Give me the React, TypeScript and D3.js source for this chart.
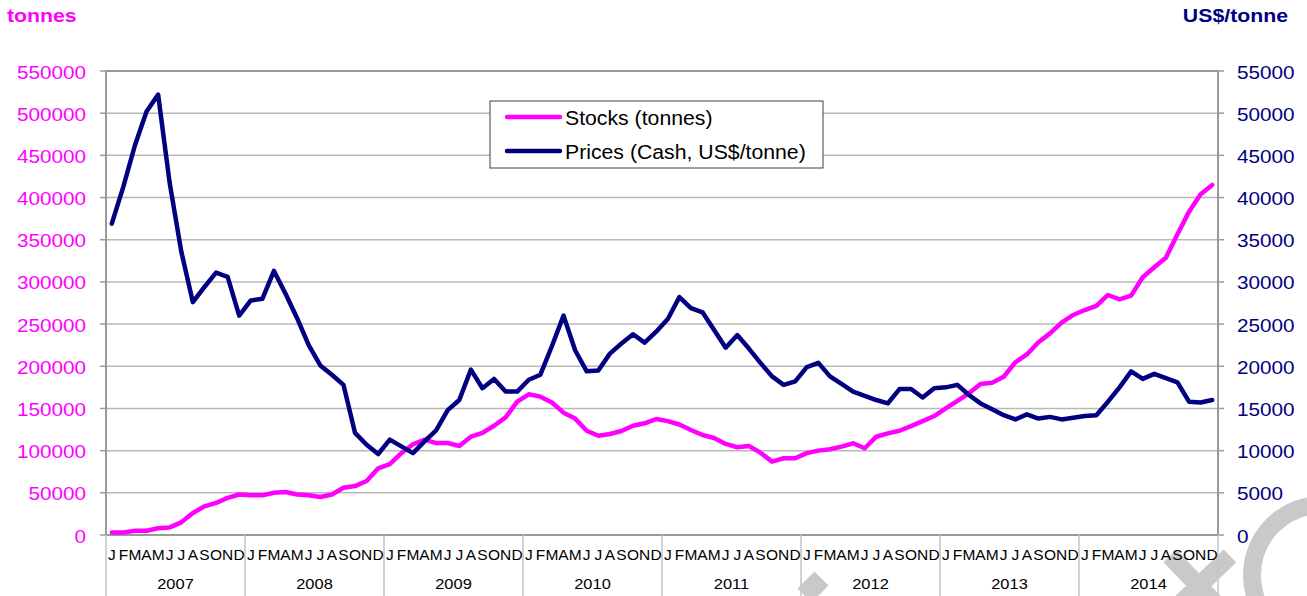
import React from "react";
import * as d3 from "d3";

const monthLetters = ["J", "F", "M", "A", "M", "J", "J", "A", "S", "O", "N", "D"];
const years = [2007, 2008, 2009, 2010, 2011, 2012, 2013, 2014];

const stocks2007 = [3000, 3000, 5000, 5000, 8000, 9000, 15000, 26000, 34000, 38000, 44000, 48000];
const stocks2008 = [47000, 47000, 50000, 51000, 48000, 47000, 45000, 48000, 56000, 58000, 64000, 79000];
const stocks2009 = [84000, 97000, 107500, 113000, 109000, 109000, 105500, 116500, 121000, 129500, 139500, 158000];
const stocks2010 = [166800, 164000, 157000, 145000, 138000, 123600, 117700, 119700, 123300, 129500, 132400, 137500];
const stocks2011 = [135000, 131000, 124500, 118500, 115000, 108000, 104000, 105500, 97600, 87000, 91000, 91000];
const stocks2012 = [97000, 100000, 101600, 104700, 108700, 102800, 116500, 120500, 123600, 129000, 135000, 141000];
const stocks2013 = [150000, 159000, 168000, 179000, 180500, 187600, 204700, 214000, 228400, 239000, 251700, 260800];
const stocks2014 = [266700, 271500, 284500, 279400, 283700, 305500, 317300, 328700, 356400, 383300, 404000, 415000];

const prices2007 = [36900, 41300, 46200, 50200, 52200, 41700, 33600, 27600, 29400, 31100, 30600, 26000];
const prices2008 = [27800, 28000, 31300, 28600, 25700, 22500, 20100, 19000, 17800, 12100, 10700, 9600];
const prices2009 = [11300, 10500, 9700, 11100, 12400, 14800, 16000, 19600, 17400, 18500, 17000, 17000];
const prices2010 = [18400, 19000, 22400, 26000, 21900, 19400, 19500, 21500, 22700, 23800, 22800, 24100];
const prices2011 = [25600, 28200, 26900, 26400, 24300, 22200, 23700, 22100, 20400, 18800, 17800, 18200];
const prices2012 = [19900, 20400, 18800, 17900, 17000, 16500, 16000, 15600, 17300, 17300, 16300, 17400];
const prices2013 = [17500, 17800, 16600, 15600, 14900, 14200, 13700, 14300, 13800, 14000, 13700, 13900];
const prices2014 = [14100, 14200, 15800, 17500, 19400, 18500, 19100, 18600, 18100, 15800, 15700, 16000];

const leftTicks = [0, 50000, 100000, 150000, 200000, 250000, 300000, 350000, 400000, 450000, 500000, 550000];
const rightTicks = [0, 5000, 10000, 15000, 20000, 25000, 30000, 35000, 40000, 45000, 50000, 55000];

const stocks = [
  ...stocks2007, ...stocks2008, ...stocks2009, ...stocks2010,
  ...stocks2011, ...stocks2012, ...stocks2013, ...stocks2014,
];
const prices = [
  ...prices2007, ...prices2008, ...prices2009, ...prices2010,
  ...prices2011, ...prices2012, ...prices2013, ...prices2014,
];

const W = 1307;
const H = 596;
const L = 106;
const R = 1218;
const T = 71;
const B = 535;

const PINK = "#ff00ff";
const NAVY = "#000080";
const GRID = "#b8b8b8";
const AXIS = "#9a9a9a";
const FONT = "'Liberation Sans', Arial, sans-serif";

function Txt(props: {
  x: number; y: number; size: number; sx?: number; anchor?: string;
  fill?: string; weight?: string | number; children: React.ReactNode;
}) {
  const { x, y, size, sx = 1.1, anchor = "start", fill = "#000", weight = "normal", children } = props;
  return (
    <text
      transform={`translate(${x},${y}) scale(${sx},1)`}
      fontSize={size}
      fontFamily={FONT}
      textAnchor={anchor}
      fill={fill}
      fontWeight={weight}
    >
      {children}
    </text>
  );
}

export default function App() {
  const idx = d3.range(stocks.length);
  const x = d3.scaleBand<number>().domain(idx).range([L, R]).paddingInner(0).paddingOuter(0);
  const cx = (i: number) => (x(i) as number) + x.bandwidth() / 2;
  const yL = d3.scaleLinear().domain([0, 550000]).range([B, T]);
  const yR = d3.scaleLinear().domain([0, 55000]).range([B, T]);

  const stockLine = d3.line<number>().x((_, i) => cx(i)).y((d) => yL(d))(stocks) as string;
  const priceLine = d3.line<number>().x((_, i) => cx(i)).y((d) => yR(d))(prices) as string;

  const yearW = x.bandwidth() * 12;

  return (
    <svg
      width={W}
      height={H}
      viewBox={`0 0 ${W} ${H}`}
      style={{ position: "absolute", left: 0, top: 0, background: "#fff" }}
    >
      <rect x={0} y={0} width={W} height={H} fill="#fff" />

      {/* watermark */}
      <g fill="none" stroke="#c9c9c9" strokeWidth={18}>
        <circle cx={1322} cy={575} r={70} />
        <line x1={1170} y1={556} x2={1214} y2={602} />
        <line x1={1182} y1={602} x2={1230} y2={556} />
      </g>
      <rect x={803} y={575} width={20} height={24} fill="#c9c9c9" transform="rotate(45 813 587)" />

      {/* gridlines */}
      {leftTicks.map((t) => (
        <line key={"g" + t} x1={L} x2={R} y1={yL(t)} y2={yL(t)} stroke={GRID} strokeWidth={1.5} />
      ))}

      {/* plot border */}
      <rect x={L} y={T} width={R - L} height={B - T} fill="none" stroke={AXIS} strokeWidth={2} />

      {/* left ticks + labels */}
      {leftTicks.map((t) => (
        <g key={"l" + t}>
          <line x1={100} x2={L} y1={yL(t)} y2={yL(t)} stroke={AXIS} strokeWidth={1.5} />
          <Txt x={86} y={yL(t) + 7.5} size={18.5} sx={1.12} anchor="end" fill={PINK}>
            {t}
          </Txt>
        </g>
      ))}

      {/* right ticks + labels */}
      {rightTicks.map((t) => (
        <g key={"r" + t}>
          <line x1={R} x2={R + 6} y1={yR(t)} y2={yR(t)} stroke={AXIS} strokeWidth={1.5} />
          <Txt x={1237} y={yR(t) + 7.5} size={18.5} sx={1.12} anchor="start" fill={NAVY}>
            {t}
          </Txt>
        </g>
      ))}

      {/* x axis categories */}
      {years.map((yr, k) => {
        const x0 = x(k * 12) as number;
        return (
          <g key={"y" + yr}>
            <line x1={x0} x2={x0} y1={B} y2={H} stroke="#c4c4c4" strokeWidth={1.5} />
            <Txt x={x0 + yearW / 2} y={589} size={15.5} sx={1.06} anchor="middle" fill="#000">
              {yr}
            </Txt>
          </g>
        );
      })}
      <line x1={R} x2={R} y1={B} y2={H} stroke="#c4c4c4" strokeWidth={1.5} />
      {idx.map((i) => (
        <Txt key={"m" + i} x={cx(i)} y={560} size={15.5} sx={1.0} anchor="middle" fill="#000">
          {monthLetters[i % 12]}
        </Txt>
      ))}

      {/* series */}
      <path d={stockLine} fill="none" stroke={PINK} strokeWidth={4.5} strokeLinejoin="round" strokeLinecap="round" />
      <path d={priceLine} fill="none" stroke={NAVY} strokeWidth={4.5} strokeLinejoin="round" strokeLinecap="round" />

      {/* axis titles */}
      <Txt x={7} y={22} size={19} sx={1.12} weight="bold" fill={PINK}>tonnes</Txt>
      <Txt x={1288} y={22} size={19} sx={1.12} weight="bold" fill={NAVY} anchor="end">US$/tonne</Txt>

      {/* legend */}
      <g>
        <rect x={490} y={101} width={333} height={67} fill="#fff" stroke="#404040" strokeWidth={1} />
        <line x1={507} x2={560} y1={117} y2={117} stroke={PINK} strokeWidth={4.5} strokeLinecap="round" />
        <line x1={507} x2={560} y1={151} y2={151} stroke={NAVY} strokeWidth={4.5} strokeLinecap="round" />
        <Txt x={565} y={124.5} size={19.5} sx={1.09}>Stocks (tonnes)</Txt>
        <Txt x={565} y={159} size={19.5} sx={1.09}>Prices (Cash, US$/tonne)</Txt>
      </g>
    </svg>
  );
}
